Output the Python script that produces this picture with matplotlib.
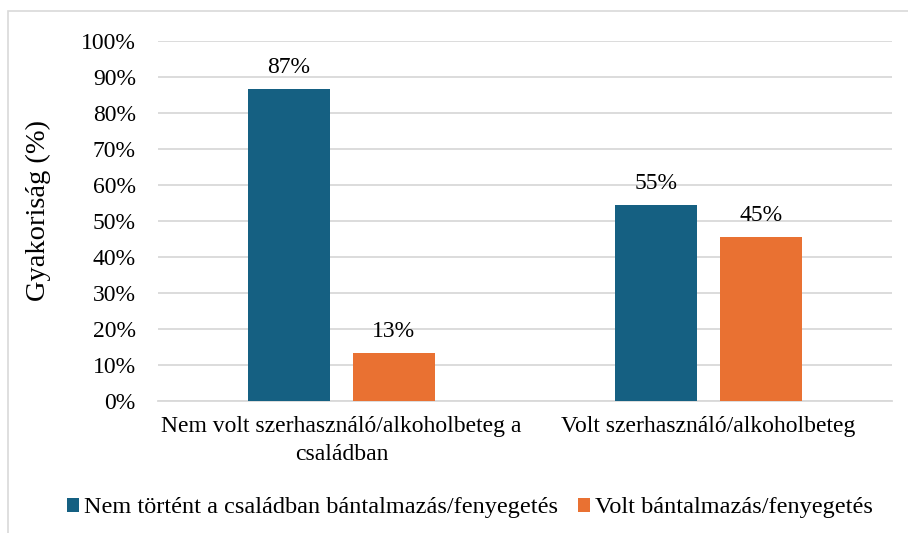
import matplotlib.pyplot as plt
import numpy as np
from matplotlib.patches import Rectangle
from matplotlib.ticker import PercentFormatter

plt.rcParams['font.family'] = ['Liberation Serif', 'DejaVu Serif']

categories = ['Nem volt szerhasználó/alkoholbeteg a\ncsaládban', 'Volt szerhasználó/alkoholbeteg']
series_names = ['Nem történt a családban bántalmazás/fenyegetés', 'Volt bántalmazás/fenyegetés']
no_abuse = [86.7, 54.5]
abuse = [13.3, 45.5]
labels_no = ['87%', '55%']
labels_yes = ['13%', '45%']
colors = ['#156082', '#E97132']

fig = plt.figure(figsize=(9.08, 5.33), dpi=100)
ax = fig.add_axes([158 / 908, 1 - 401 / 533, 734 / 908, 360 / 533])

# chart border
fig.patches.append(Rectangle((8 / 908, -0.1), 1.2, 1 - 11 / 533 + 0.1, transform=fig.transFigure,
                             fill=False, edgecolor='#d9d9d9', linewidth=1.2))

x = np.arange(len(categories))
w = 0.223
off = 0.143
b1 = ax.bar(x - off, no_abuse, w, color=colors[0], label=series_names[0], zorder=3)
b2 = ax.bar(x + off, abuse, w, color=colors[1], label=series_names[1], zorder=3)

for bars, labs in [(b1, labels_no), (b2, labels_yes)]:
    for r, t in zip(bars, labs):
        ax.annotate(t, (r.get_x() + r.get_width() / 2, r.get_height()), xytext=(0, 8),
                    textcoords='offset points', ha='center', va='bottom', fontsize=17)

ax.set_xlim(-0.5, 1.5)
ax.set_ylim(0, 100)
ax.set_yticks(np.arange(0, 101, 10))
ax.yaxis.set_major_formatter(PercentFormatter(decimals=0))
ax.set_xticks(x)
ax.set_xticklabels(categories, fontsize=17, linespacing=1.45)
ax.tick_params(axis='y', labelsize=17, length=0, pad=16)
ax.tick_params(axis='x', length=0, pad=11)
ax.grid(axis='y', color='#d9d9d9', linewidth=1.3, zorder=0)
for s in ['top', 'right', 'left']:
    ax.spines[s].set_visible(False)
ax.spines['bottom'].set_color('#d9d9d9')
ax.spines['bottom'].set_linewidth(1.3)
ax.set_ylabel('Gyakoriság (%)', fontsize=20.5)
ax.yaxis.set_label_coords(-0.146, 0.53)

fig.legend(loc='center', bbox_to_anchor=(470 / 908, 1 - 508 / 533), ncol=2, frameon=False,
           fontsize=17.5, handlelength=0.5, handleheight=0.5, handletextpad=0.2, columnspacing=0.8)

fig.savefig('out.png', dpi=100)
